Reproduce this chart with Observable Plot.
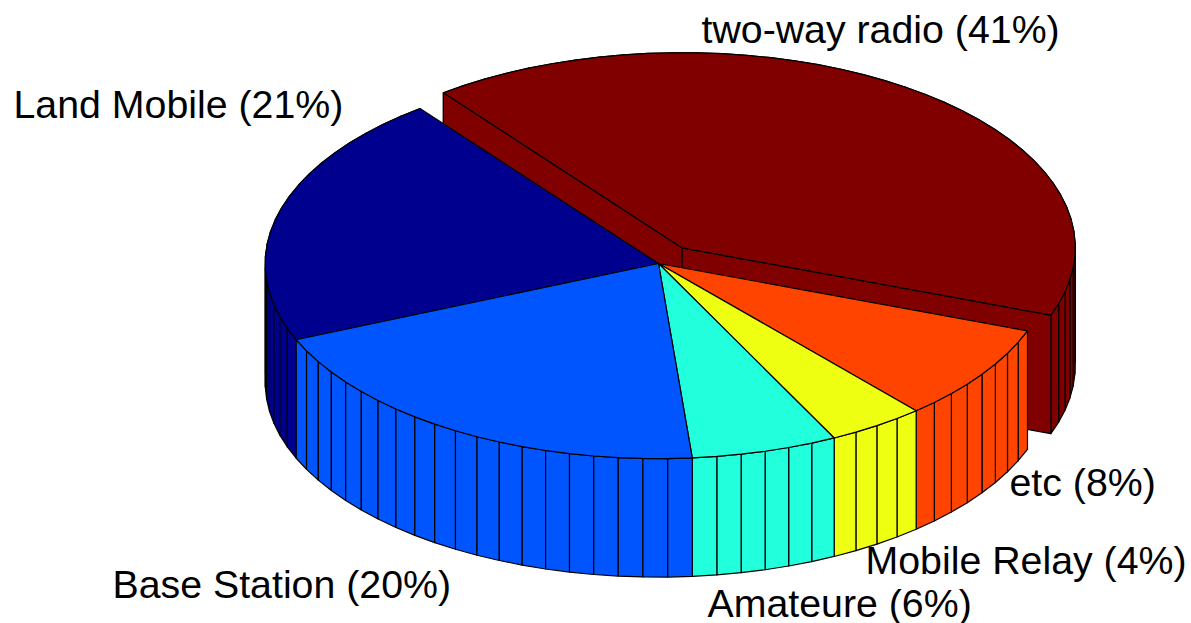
<!DOCTYPE html>
<html>
<head>
<meta charset="utf-8">
<style>html,body{margin:0;padding:0;background:#fff}svg{display:block}</style>
<script src="https://cdn.jsdelivr.net/npm/d3@7"></script>
<script src="https://cdn.jsdelivr.net/npm/@observablehq/plot@0.6"></script>
</head>
<body>
<script>
// Data, in pie order (around the pie from the top-left seam)
const sliceNames = ["Land Mobile", "Base Station", "Amateure", "Mobile Relay", "etc", "two-way radio"];
const shares = [21, 20, 6, 4, 8, 41];
const facets = [21, 20, 6, 4, 8, 41];
const exploded = [0, 0, 0, 0, 0, 1];
const colors = ["#00008f", "#0055ff", "#22ffdd", "#eeff11", "#ff4400", "#800000"];

// Presentation
const paintOrder = [5, 0, 4, 3, 2, 1];
const labelAt = [[13, 117], [112, 597], [707, 616], [865, 573], [1009, 495], [701, 42]];
const W = 1191, H = 623;
const cam = {cx: 658, cy: 263, ax: -238.5, ay: -155, bx: -312.8, by: 118.5, depth: 118.5, explode: 0.1};

const project = (u, v, down) => [
  cam.cx + cam.ax * u + cam.bx * v,
  cam.cy + cam.ay * u + cam.by * v + (down ? cam.depth : 0)
];

const total = d3.sum(shares);
let run = 0;
const slices = shares.map((s, i) => {
  const a0 = run / total * 2 * Math.PI;
  run += s;
  const a1 = run / total * 2 * Math.PI;
  const mid = (a0 + a1) / 2;
  const ox = exploded[i] * cam.explode * Math.cos(mid), oy = exploded[i] * cam.explode * Math.sin(mid);
  const rim = d3.range(facets[i] + 1).map(k => {
    const a = a0 + (a1 - a0) * k / facets[i];
    return [ox + Math.cos(a), oy + Math.sin(a)];
  });
  return {i, rim, o: [ox, oy]};
});

const polys = [];
const add = (pts, fill) => {
  const id = polys.length ? polys[polys.length - 1].id + 1 : 0;
  [...pts, pts[0]].forEach(p => polys.push({id, x: p[0], y: p[1], fill}));
};
for (const idx of paintOrder) {
  const {i, rim, o} = slices[idx];
  const fill = colors[i];
  const walls = d3.range(rim.length - 1).map(k => [rim[k], rim[k + 1]]);
  walls.sort((p, q) => project(...p[0])[1] + project(...p[1])[1] - project(...q[0])[1] - project(...q[1])[1]);
  for (const [p, q] of walls) add([project(...p), project(...q), project(...q, true), project(...p, true)], fill);
  // Only a pulled-out slice shows its radial cut faces
  if (exploded[i]) for (const e of [rim[0], rim[rim.length - 1]]) add([project(...o), project(...e), project(...e, true), project(...o, true)], fill);
  add([project(...o), ...rim.map(p => project(...p))], fill);
}

const labels = sliceNames.map((n, i) => ({text: `${n} (${shares[i]}%)`, x: labelAt[i][0], y: labelAt[i][1]}));

document.body.append(Plot.plot({
  width: W, height: H, margin: 0,
  x: {domain: [0, W], range: [0, W], axis: null},
  y: {domain: [0, H], range: [0, H], axis: null},
  marks: [
    Plot.line(polys, {x: "x", y: "y", z: "id", fill: "fill", stroke: "#000", strokeWidth: 1.2, strokeLinejoin: "round"}),
    Plot.text(labels, {x: "x", y: "y", text: "text", textAnchor: "start", lineAnchor: "bottom",
      fontSize: 39.3, fontFamily: "Liberation Sans", fill: "#000"})
  ]
}));
</script>
</body>
</html>
